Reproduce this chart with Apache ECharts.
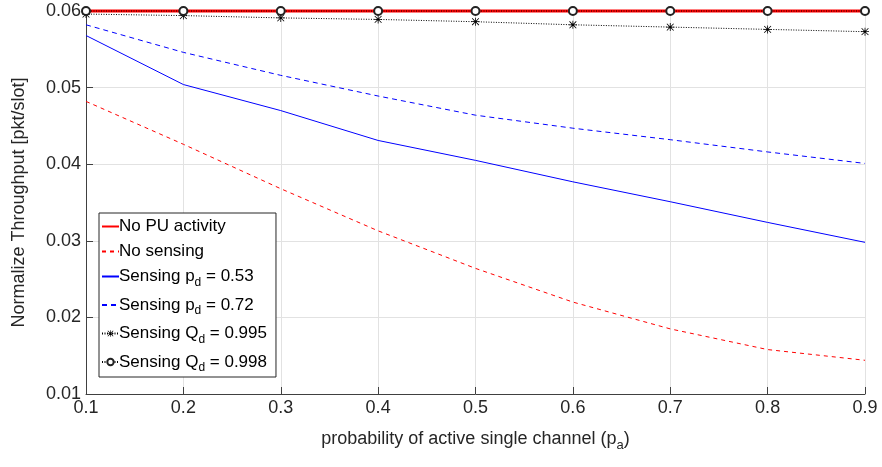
<!DOCTYPE html>
<html>
<head>
<meta charset="utf-8">
<script src="https://cdn.jsdelivr.net/npm/echarts@6/dist/echarts.min.js"></script>
<style>
  html, body { margin: 0; padding: 0; background: #fff; }
  #chart { width: 882px; height: 467px; }
</style>
</head>
<body>
<div id="chart"></div>
<script>
  // x values (p_a)
  var pa = [0.1, 0.2, 0.3, 0.4, 0.5, 0.6, 0.7, 0.8, 0.9];
  // series values
  var noPU      = [0.0600, 0.0600, 0.0600, 0.0600, 0.0600, 0.0600, 0.0600, 0.0600, 0.0600];
  var noSensing = [0.0482, 0.0426, 0.0368, 0.0313, 0.0264, 0.0220, 0.0185, 0.0158, 0.0144];
  var pd053     = [0.0568, 0.0504, 0.0470, 0.0431, 0.0405, 0.0377, 0.0351, 0.0324, 0.0298];
  var pd072     = [0.0582, 0.0546, 0.0516, 0.0489, 0.0464, 0.0447, 0.0432, 0.0416, 0.0401];
  var qd0995    = [0.0596, 0.0594, 0.0591, 0.0589, 0.0586, 0.0582, 0.0579, 0.0576, 0.0573];
  var qd0998    = [0.0600, 0.0600, 0.0600, 0.0600, 0.0600, 0.0600, 0.0600, 0.0600, 0.0600];
  var legendNames = ['No PU activity', 'No sensing', 'Sensing p_d = 0.53', 'Sensing p_d = 0.72',
                     'Sensing Q_d = 0.995', 'Sensing Q_d = 0.998'];

  var FONT = '"Liberation Sans", Arial, Helvetica, sans-serif';
  var TXT = '#262626';

  // asterisk marker (MATLAB '*')
  var ASTER = 'path://M0,4.5H10V5.5H0Z M4.5,0H5.5V10H4.5Z M1.1,0.4L9.6,8.9L8.9,9.6L0.4,1.1Z M8.9,0.4L9.6,1.1L1.1,9.6L0.4,8.9Z';

  function pairs(ys) {
    return pa.map(function(x, i) { return [x, ys[i]]; });
  }

  // legend: no marker for the plain lines
  var legendData = legendNames.map(function(n, i) {
    if (i < 4) return { name: n, itemStyle: { opacity: 0 } };
    return { name: n };
  });

  var chart = echarts.init(document.getElementById('chart'));
  var option = {
    animation: false,
    textStyle: { fontFamily: FONT },
    grid: { left: 86, right: 17, top: 11, bottom: 73 },
    legend: {
      orient: 'vertical',
      left: 99,
      top: 213,
      itemWidth: 17,
      itemHeight: 8,
      itemGap: 8,
      padding: [5, 9, 3, 2],
      backgroundColor: '#fff',
      borderColor: '#262626',
      borderWidth: 1,
      borderRadius: 0,
      selectedMode: false,
      data: legendData,
      formatter: function(name) {
        var m = name.match(/^(.*)_(\w)(.*)$/);
        if (!m) return '{t|' + name + '}';
        return '{t|' + m[1] + '}{sub|' + m[2] + '}{t|' + m[3] + '}';
      },
      textStyle: {
        fontSize: 17,
        color: '#000',
        padding: [0, 0, 0, -5],
        rich: {
          t: { fontSize: 17, color: '#000', fontFamily: FONT },
          sub: { fontSize: 12, color: '#000', fontFamily: FONT, padding: [12, 0, 0, 0] }
        }
      }
    },
    xAxis: {
      type: 'value',
      min: 0.1,
      max: 0.9,
      interval: 0.1,
      name: 'probability of active single channel (p{sub|a})',
      nameLocation: 'middle',
      nameGap: 33,
      nameTextStyle: {
        fontSize: 18,
        color: TXT,
        rich: {
          sub: { fontSize: 13, color: TXT, padding: [12, 0, 0, 0] }
        }
      },
      axisLine: { show: true, lineStyle: { color: '#404040', width: 1 } },
      axisTick: { show: true, inside: true, length: 7, lineStyle: { color: '#404040' } },
      axisLabel: {
        fontSize: 18, color: TXT, margin: 5,
        formatter: function(v) { return v.toFixed(1); }
      },
      splitLine: { show: true, lineStyle: { color: '#e2e2e2', width: 1 } }
    },
    yAxis: {
      type: 'value',
      min: 0.01,
      max: 0.06,
      interval: 0.01,
      name: 'Normalize Throughput [pkt/slot]',
      nameLocation: 'middle',
      nameGap: 58,
      nameTextStyle: { fontSize: 18, color: TXT },
      axisLine: { show: true, lineStyle: { color: '#404040', width: 1 } },
      axisTick: { show: true, inside: true, length: 7, lineStyle: { color: '#404040' } },
      axisLabel: {
        fontSize: 18, color: TXT, margin: 5,
        formatter: function(v) { return v.toFixed(2); }
      },
      splitLine: { show: true, lineStyle: { color: '#e2e2e2', width: 1 } }
    },
    series: [
      {
        name: 'No PU activity', type: 'line', data: pairs(noPU), clip: false,
        symbol: 'none', color: '#ff0000',
        lineStyle: { color: '#ff0000', width: 2.8 }
      },
      {
        name: 'No sensing', type: 'line', data: pairs(noSensing),
        symbol: 'none', color: '#ff0000',
        lineStyle: { color: '#ff0000', width: 1, type: [4, 4] }
      },
      {
        name: 'Sensing p_d = 0.53', type: 'line', data: pairs(pd053),
        symbol: 'none', color: '#0000ff',
        lineStyle: { color: '#0000ff', width: 1 }
      },
      {
        name: 'Sensing p_d = 0.72', type: 'line', data: pairs(pd072),
        symbol: 'none', color: '#0000ff',
        lineStyle: { color: '#0000ff', width: 1, type: [5, 4] }
      },
      {
        name: 'Sensing Q_d = 0.995', type: 'line', data: pairs(qd0995), clip: false,
        symbol: ASTER, symbolSize: 8, color: '#000',
        itemStyle: { color: '#000' },
        lineStyle: { color: '#000', width: 1, type: [1, 1.5] }
      },
      {
        name: 'Sensing Q_d = 0.998', type: 'line', data: pairs(qd0998), clip: false,
        symbol: 'emptyCircle', symbolSize: 8, color: '#222',
        itemStyle: { color: '#222', borderColor: '#222', borderWidth: 0.8 },
        lineStyle: { color: '#000', width: 1, type: [1, 1.5] }
      }
    ]
  };
  chart.setOption(option);
</script>
</body>
</html>
